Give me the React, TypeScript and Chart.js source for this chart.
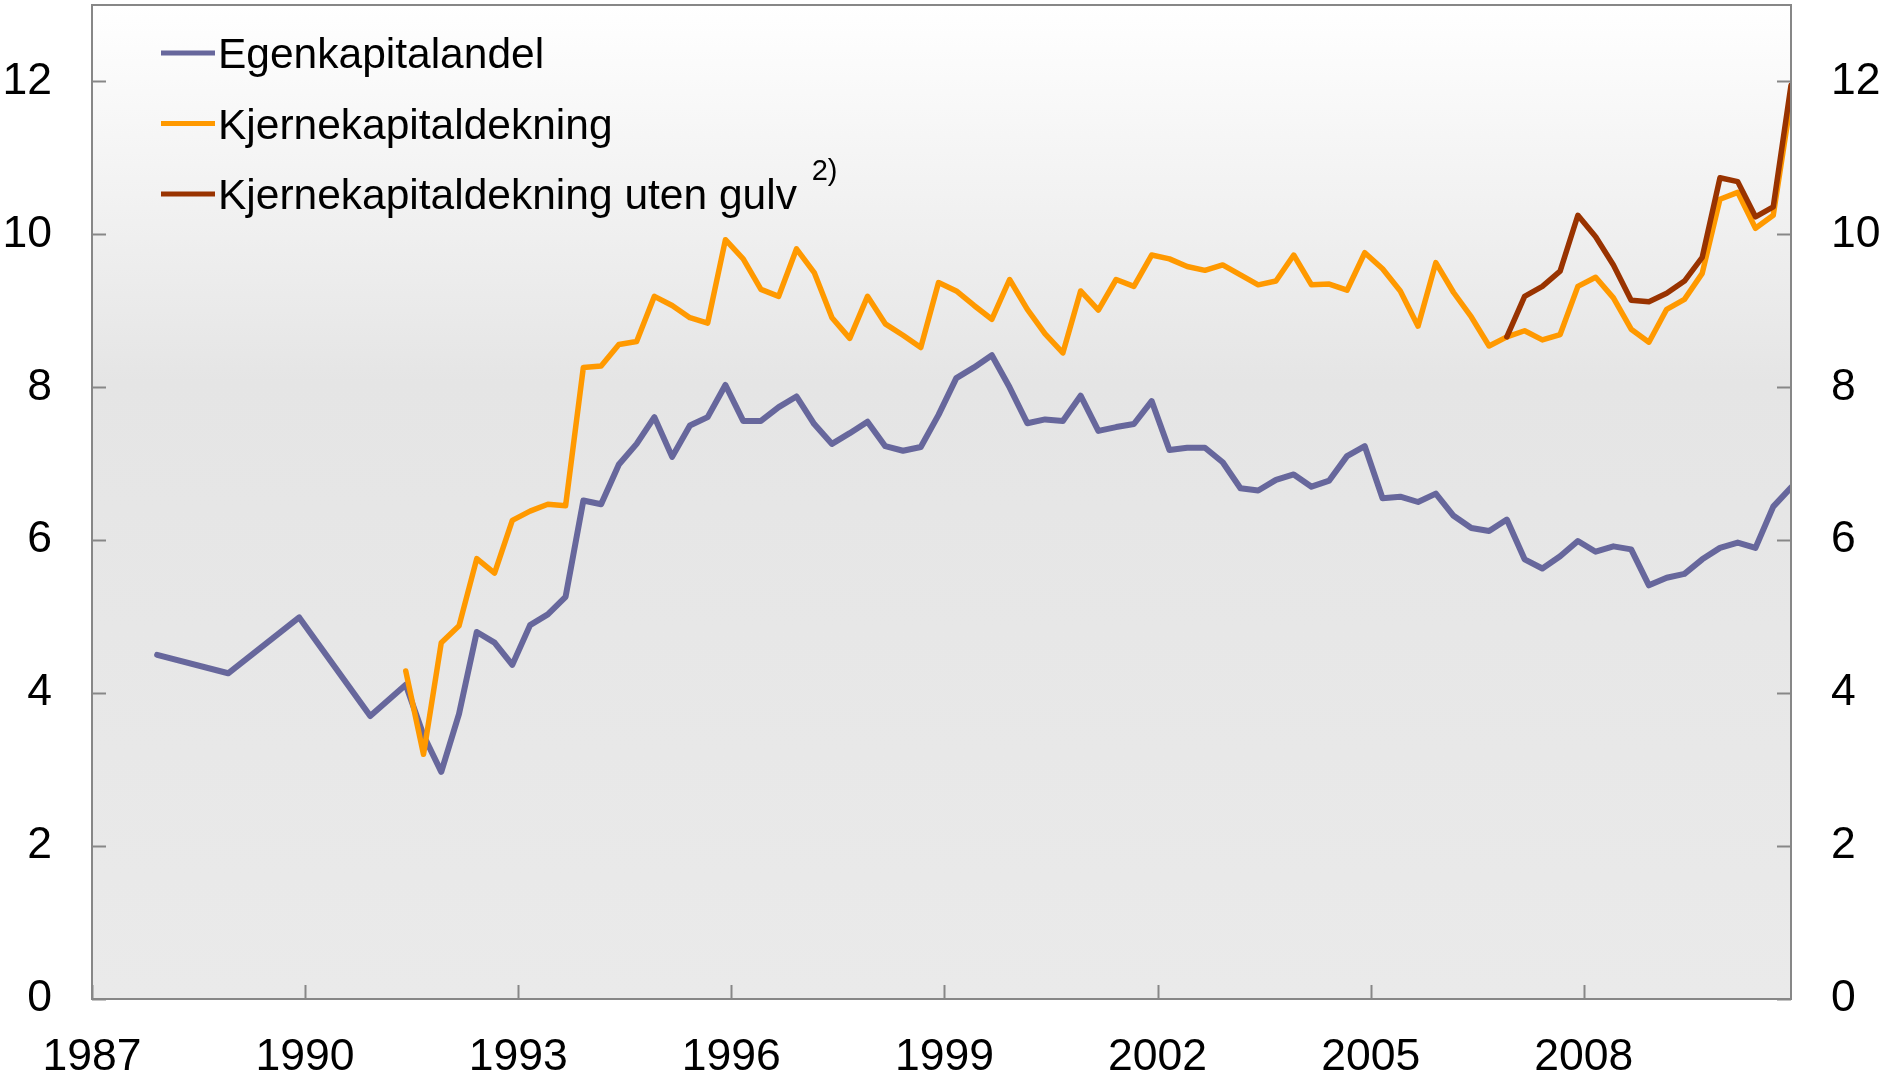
import React, { useEffect, useRef } from "react";
import { Chart, registerables } from "chart.js";

Chart.register(...registerables);

// ---- Data ----
const periods: string[] = [
  "1987Q4", "1988Q4", "1989Q4", "1990Q4",
  "1991Q2", "1991Q3", "1991Q4",
  "1992Q1", "1992Q2", "1992Q3", "1992Q4",
  "1993Q1", "1993Q2", "1993Q3", "1993Q4",
  "1994Q1", "1994Q2", "1994Q3", "1994Q4",
  "1995Q1", "1995Q2", "1995Q3", "1995Q4",
  "1996Q1", "1996Q2", "1996Q3", "1996Q4",
  "1997Q1", "1997Q2", "1997Q3", "1997Q4",
  "1998Q1", "1998Q2", "1998Q3", "1998Q4",
  "1999Q1", "1999Q2", "1999Q3", "1999Q4",
  "2000Q1", "2000Q2", "2000Q3", "2000Q4",
  "2001Q1", "2001Q2", "2001Q3", "2001Q4",
  "2002Q1", "2002Q2", "2002Q3", "2002Q4",
  "2003Q1", "2003Q2", "2003Q3", "2003Q4",
  "2004Q1", "2004Q2", "2004Q3", "2004Q4",
  "2005Q1", "2005Q2", "2005Q3", "2005Q4",
  "2006Q1", "2006Q2", "2006Q3", "2006Q4",
  "2007Q1", "2007Q2", "2007Q3", "2007Q4",
  "2008Q1", "2008Q2", "2008Q3", "2008Q4",
  "2009Q1", "2009Q2", "2009Q3", "2009Q4",
  "2010Q1", "2010Q2", "2010Q3", "2010Q4",
];

const egenkapitalandel: (number | null)[] = [
  4.50, 4.26, 4.99, 3.70,
  4.11, 3.45, 2.97,
  3.73, 4.80, 4.66, 4.37,
  4.89, 5.03, 5.26, 6.52,
  6.47, 6.99, 7.26, 7.61,
  7.09, 7.50, 7.61, 8.03,
  7.56, 7.56, 7.74, 7.88,
  7.52, 7.26, 7.40, 7.55,
  7.23, 7.17, 7.22, 7.64,
  8.12, 8.26, 8.42, 8.00,
  7.53, 7.58, 7.56, 7.89,
  7.43, 7.48, 7.52, 7.82,
  7.18, 7.21, 7.21, 7.02,
  6.68, 6.65, 6.79, 6.86,
  6.70, 6.78, 7.10, 7.23,
  6.55, 6.57, 6.50, 6.61,
  6.32, 6.16, 6.12, 6.27,
  5.75, 5.63, 5.79, 5.99,
  5.85, 5.92, 5.88, 5.41,
  5.51, 5.56, 5.75, 5.90,
  5.97, 5.90, 6.44, 6.69,
];

const kjernekapitaldekning: (number | null)[] = [
  null, null, null, null,
  4.29, 3.20, 4.66,
  4.88, 5.76, 5.57, 6.26,
  6.38, 6.47, 6.45, 8.26,
  8.28, 8.56, 8.60, 9.19,
  9.07, 8.91, 8.84, 9.93,
  9.68, 9.28, 9.19, 9.81,
  9.50, 8.91, 8.64, 9.19,
  8.83, 8.68, 8.52, 9.37,
  9.26, 9.07, 8.89, 9.41,
  9.02, 8.70, 8.45, 9.26,
  9.01, 9.41, 9.32, 9.73,
  9.68, 9.58, 9.53, 9.60,
  9.47, 9.34, 9.39, 9.73,
  9.34, 9.35, 9.27, 9.76,
  9.55, 9.26, 8.80, 9.63,
  9.24, 8.92, 8.54, 8.66,
  8.74, 8.62, 8.69, 9.32,
  9.44, 9.17, 8.76, 8.59,
  9.02, 9.15, 9.49, 10.46,
  10.55, 10.08, 10.25, 11.76,
];

const kjernekapitaldekningUtenGulv: (number | null)[] = [
  null, null, null, null,
  null, null, null,
  null, null, null, null,
  null, null, null, null,
  null, null, null, null,
  null, null, null, null,
  null, null, null, null,
  null, null, null, null,
  null, null, null, null,
  null, null, null, null,
  null, null, null, null,
  null, null, null, null,
  null, null, null, null,
  null, null, null, null,
  null, null, null, null,
  null, null, null, null,
  null, null, null, 8.66,
  9.19, 9.32, 9.52, 10.25,
  9.97, 9.60, 9.14, 9.12,
  9.23, 9.39, 9.70, 10.74,
  10.69, 10.23, 10.36, 11.95,
];

const seriesNames = ["Egenkapitalandel", "Kjernekapitaldekning", "Kjernekapitaldekning uten gulv"];
const legendSuperscript = "2)";
const xTicks = [1987, 1990, 1993, 1996, 1999, 2002, 2005, 2008];
const yTicks = [0, 2, 4, 6, 8, 10, 12];
const xMin = 1987;
const xMax = 2010 + 11 / 12;
const yMin = 0;
const yMax = 13;

const colors = ["#67679c", "#ff9900", "#993300"];
const FONT = "'Liberation Sans', Arial, Helvetica, sans-serif";
const AXIS_GRAY = "#878787";

function periodToYear(p: string): number {
  const y = parseInt(p.slice(0, 4), 10);
  const q = parseInt(p.slice(5), 10);
  return y + (3 * q - 1) / 12;
}

function toPoints(values: (number | null)[]) {
  return periods.map((p, i) => ({ x: periodToYear(p), y: values[i] }));
}

function zeroPadding(scale: any) {
  scale.paddingTop = 0;
  scale.paddingBottom = 0;
  scale.paddingLeft = 0;
  scale.paddingRight = 0;
}

const bgPlugin = {
  id: "bgPlugin",
  beforeDraw(chart: any) {
    const { ctx, chartArea } = chart;
    const { left, top, right, bottom } = chartArea;
    const g = ctx.createLinearGradient(0, top, 0, bottom);
    g.addColorStop(0, "#ffffff");
    g.addColorStop(0.38, "#e5e5e5");
    g.addColorStop(1, "#eaeaea");
    ctx.save();
    ctx.fillStyle = g;
    ctx.fillRect(left, top, right - left, bottom - top);
    ctx.restore();
  },
  afterDatasetsDraw(chart: any) {
    const { ctx, chartArea, scales } = chart;
    const { left, top, right, bottom } = chartArea;
    ctx.save();
    ctx.strokeStyle = AXIS_GRAY;
    ctx.lineWidth = 2;
    ctx.beginPath();
    ctx.rect(left, top, right - left, bottom - top);
    ctx.stroke();
    const tl = 14;
    ctx.beginPath();
    for (const v of yTicks) {
      const y = Math.round(scales.y.getPixelForValue(v)) + 0.5;
      ctx.moveTo(left, y);
      ctx.lineTo(left + tl, y);
      ctx.moveTo(right, y);
      ctx.lineTo(right - tl, y);
    }
    for (const v of xTicks) {
      const x = Math.round(scales.x.getPixelForValue(v)) + 0.5;
      ctx.moveTo(x, bottom);
      ctx.lineTo(x, bottom - tl);
    }
    ctx.stroke();
    ctx.restore();
  },
  afterDraw(chart: any) {
    const { ctx } = chart;
    ctx.save();
    const lineX0 = 161;
    const lineX1 = 215;
    const textX = 218;
    const baselines = [68, 138.5, 209];
    ctx.textBaseline = "alphabetic";
    ctx.textAlign = "left";
    seriesNames.forEach((name, i) => {
      const b = baselines[i];
      const cy = b - 15;
      ctx.strokeStyle = colors[i];
      ctx.lineWidth = 5;
      ctx.lineCap = "butt";
      ctx.beginPath();
      ctx.moveTo(lineX0, cy);
      ctx.lineTo(lineX1, cy);
      ctx.stroke();
      ctx.fillStyle = "#000000";
      ctx.font = `42.5px ${FONT}`;
      ctx.fillText(name, textX, b);
      if (i === 2) {
        const w = ctx.measureText(name + " ").width;
        ctx.font = `29px ${FONT}`;
        ctx.fillText(legendSuperscript, textX + w + 3, b - 29);
      }
    });
    ctx.restore();
  },
};

export default function App() {
  const canvasRef = useRef<HTMLCanvasElement | null>(null);

  useEffect(() => {
    document.body.style.margin = "0";
    document.body.style.overflow = "hidden";
    const canvas = canvasRef.current;
    if (!canvas) return;

    const tickFont = { family: FONT, size: 44.5 };

    const chart = new Chart(canvas, {
      type: "line",
      data: {
        datasets: [
          {
            label: seriesNames[0],
            data: toPoints(egenkapitalandel),
            borderColor: colors[0],
            borderWidth: 6,
            order: 3,
          },
          {
            label: seriesNames[1],
            data: toPoints(kjernekapitaldekning),
            borderColor: colors[1],
            borderWidth: 5.5,
            order: 2,
          },
          {
            label: seriesNames[2],
            data: toPoints(kjernekapitaldekningUtenGulv),
            borderColor: colors[2],
            borderWidth: 5.5,
            order: 1,
          },
        ] as any,
      },
      options: {
        animation: false,
        responsive: false,
        devicePixelRatio: 1,
        spanGaps: false,
        elements: {
          point: { radius: 0, hoverRadius: 0 },
          line: { tension: 0, borderJoinStyle: "round", borderCapStyle: "round", fill: false },
        },
        layout: { padding: { top: 5, left: 0, right: 0, bottom: 0 } },
        plugins: {
          legend: { display: false },
          tooltip: { enabled: false },
          title: { display: false },
        },
        scales: {
          x: {
            type: "linear",
            min: xMin,
            max: xMax,
            grid: { display: false, drawTicks: false },
            border: { display: false },
            afterBuildTicks: (scale: any) => {
              scale.ticks = xTicks.map((v) => ({ value: v }));
            },
            afterFit: (scale: any) => {
              scale.height = 82;
              zeroPadding(scale);
            },
            ticks: {
              autoSkip: false,
              maxRotation: 0,
              minRotation: 0,
              padding: 32,
              color: "#000000",
              font: tickFont,
              callback: (v: any) => String(v),
            },
          },
          y: {
            type: "linear",
            position: "left",
            min: yMin,
            max: yMax,
            grid: { display: false, drawTicks: false },
            border: { display: false },
            afterBuildTicks: (scale: any) => {
              scale.ticks = yTicks.map((v) => ({ value: v }));
            },
            afterFit: (scale: any) => {
              scale.width = 92;
              zeroPadding(scale);
            },
            ticks: {
              padding: 40,
              color: "#000000",
              font: tickFont,
              callback: (v: any) => String(v),
            },
          },
          y2: {
            type: "linear",
            position: "right",
            min: yMin,
            max: yMax,
            grid: { display: false, drawTicks: false },
            border: { display: false },
            afterBuildTicks: (scale: any) => {
              scale.ticks = yTicks.map((v) => ({ value: v }));
            },
            afterFit: (scale: any) => {
              scale.width = 92;
              zeroPadding(scale);
            },
            ticks: {
              padding: 40,
              color: "#000000",
              font: tickFont,
              callback: (v: any) => String(v),
            },
          },
        },
      } as any,
      plugins: [bgPlugin],
    });

    return () => {
      chart.destroy();
    };
  }, []);

  return (
    <div style={{ width: 1883, height: 1081, position: "relative", background: "#ffffff" }}>
      <canvas ref={canvasRef} width={1883} height={1081} style={{ display: "block" }} />
    </div>
  );
}
